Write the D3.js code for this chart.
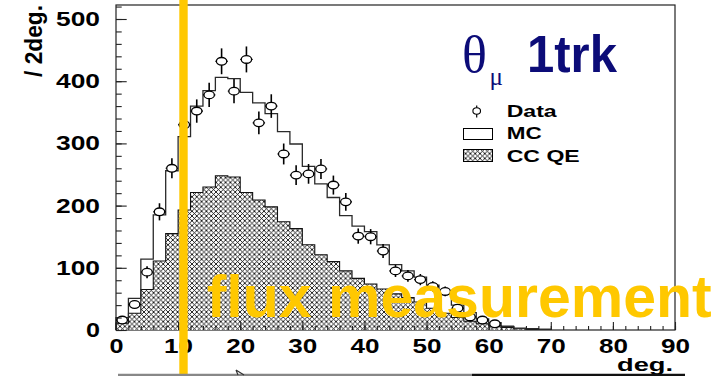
<!DOCTYPE html>
<html>
<head>
<meta charset="utf-8">
<script src="https://cdn.jsdelivr.net/npm/d3@7"></script>
<style>
  html, body { margin: 0; padding: 0; background: #fff; overflow: hidden; }
  svg { display: block; }
</style>
</head>
<body>
<div id="chart"></div>
<script>
// Muon angle distribution, 1-track sample, 2-degree bins
const binLow = [0, 2, 4, 6, 8, 10, 12, 14, 16, 18, 20, 22, 24, 26, 28, 30, 32, 34,
                36, 38, 40, 42, 44, 46, 48, 50, 52, 54, 56, 58, 60, 62, 64, 66, 68];
const binWidth = 2;

// Full Monte Carlo prediction
const mcCounts = [20, 51, 114, 185, 256, 311, 360, 385, 406, 404, 382, 365, 348, 319, 299, 263, 235, 213,
                  184, 167, 158, 137, 105, 95, 85, 72, 58, 40, 28, 18, 12, 6, 3, 2, 1];

// Charged-current quasi-elastic component
const ccqeCounts = [11, 27, 65, 111, 155, 193, 221, 230, 248, 246, 221, 209, 198, 174, 163, 137, 121, 110,
                    95, 83, 74, 66, 58, 52, 45, 35, 27, 20, 14, 10, 7, 4, 2, 1, 1];

// Observed events
const dataCounts = [16, 41, 93, 190, 260, 330, 352, 378, 432, 384, 435, 333, 360, 283, 249, 251, 259, 233,
                    206, 151, 150, 127, 95, 87, 81, 70, 62, 35, 21, 16, 10, 0, 0, 0, 0];

const yMajorTicks = [0, 100, 200, 300, 400, 500];
const xMajorTicks = [0, 10, 20, 30, 40, 50, 60, 70, 80, 90];
const legendLabels = ["Data", "MC", "CC QE"];

const W = 721, H = 376;
const plot = { left: 116, right: 675, top: 5, bottom: 330 };
const yellow = "#FFC800";
const navy = "#0c0c78";

const x = d3.scaleLinear().domain([0, 90]).range([plot.left, plot.right]);
const y = d3.scaleLinear().domain([0, 500]).range([plot.bottom, 19]);

const svg = d3.select("#chart").append("svg")
  .attr("width", W).attr("height", H)
  .attr("viewBox", `0 0 ${W} ${H}`);

// Cross-hatch fill
const P = 4.8;
const defs = svg.append("defs");
const pat = defs.append("pattern")
  .attr("id", "xhatch")
  .attr("patternUnits", "userSpaceOnUse")
  .attr("width", P).attr("height", P);
pat.append("rect").attr("width", P).attr("height", P).attr("fill", "#fff");
pat.append("path")
  .attr("d", `M-1,-1 L${P + 1},${P + 1} M${P + 1},-1 L-1,${P + 1}`)
  .attr("stroke", "#000").attr("stroke-width", 0.85).attr("fill", "none");

// Frame
svg.append("rect")
  .attr("x", plot.left).attr("y", plot.top)
  .attr("width", plot.right - plot.left).attr("height", plot.bottom - plot.top)
  .attr("fill", "#fff").attr("stroke", "#222").attr("stroke-width", 1.2);

// Histogram helpers
function stepPoints(counts) {
  const pts = counts.map((c, i) => [binLow[i], c]);
  pts.push([binLow[binLow.length - 1] + binWidth, counts[counts.length - 1]]);
  return pts;
}
const stepLine = d3.line().x(d => x(d[0])).y(d => y(d[1])).curve(d3.curveStepAfter);
const xEnd = binLow[binLow.length - 1] + binWidth;

// CC QE hatched histogram
const ccqeArea = d3.area()
  .x(d => x(d[0])).y0(y(0)).y1(d => y(d[1]))
  .curve(d3.curveStepAfter);
svg.append("path")
  .datum(stepPoints(ccqeCounts))
  .attr("d", ccqeArea)
  .attr("fill", "url(#xhatch)");
svg.append("path")
  .datum([[0, 0]].concat(stepPoints(ccqeCounts)).concat([[xEnd, 0]]))
  .attr("d", stepLine)
  .attr("fill", "none").attr("stroke", "#111").attr("stroke-width", 1.1);

// MC outline histogram
svg.append("path")
  .datum([[0, 0]].concat(stepPoints(mcCounts)).concat([[xEnd, 0]]))
  .attr("d", stepLine)
  .attr("fill", "none").attr("stroke", "#2a2a2a").attr("stroke-width", 1.3);

// Data points with Poisson errors
const pts = dataCounts.map((c, i) => ({ lo: binLow[i], c })).filter(d => d.c > 0);
const g = svg.append("g");
g.selectAll("line.ev").data(pts).join("line")
  .attr("class", "ev")
  .attr("x1", d => x(d.lo + binWidth / 2)).attr("x2", d => x(d.lo + binWidth / 2))
  .attr("y1", d => y(d.c + Math.sqrt(d.c))).attr("y2", d => y(Math.max(0, d.c - Math.sqrt(d.c))))
  .attr("stroke", "#000").attr("stroke-width", 1.6);
g.selectAll("line.eh").data(pts).join("line")
  .attr("class", "eh")
  .attr("x1", d => x(d.lo)).attr("x2", d => x(d.lo + binWidth))
  .attr("y1", d => y(d.c)).attr("y2", d => y(d.c))
  .attr("stroke", "#000").attr("stroke-width", 1.2);
g.selectAll("ellipse").data(pts).join("ellipse")
  .attr("cx", d => x(d.lo + binWidth / 2)).attr("cy", d => y(d.c))
  .attr("rx", 5.2).attr("ry", 3.8)
  .attr("fill", "#fff").attr("stroke", "#000").attr("stroke-width", 1.3);

// Axes
const font = "'Liberation Sans', Arial, sans-serif";
const yAxis = svg.append("g").attr("transform", `translate(${plot.left},0)`)
  .call(d3.axisLeft(y).tickValues(yMajorTicks).tickSize(-10.7).tickSizeOuter(0).tickPadding(16));
svg.append("g").attr("transform", `translate(${plot.left},0)`)
  .call(d3.axisLeft(y).tickValues(d3.range(0, 521, 20)).tickSize(-5.7).tickSizeOuter(0).tickFormat(""));
const xAxis = svg.append("g").attr("transform", `translate(0,${plot.bottom})`)
  .call(d3.axisBottom(x).tickValues(xMajorTicks).tickSize(-8).tickSizeOuter(0).tickPadding(8.5));
svg.append("g").attr("transform", `translate(0,${plot.bottom})`)
  .call(d3.axisBottom(x).tickValues(d3.range(0, 91, 2)).tickSize(-4).tickSizeOuter(0).tickFormat(""));
svg.selectAll(".domain").remove();
svg.selectAll(".tick line").attr("stroke", "#222").attr("stroke-width", 1.1);

yAxis.selectAll("text")
  .attr("font-family", font).attr("font-weight", "bold").attr("font-size", 20)
  .attr("fill", "#000")
  .attr("textLength", d => String(d).length * 15 - 1)
  .attr("lengthAdjust", "spacingAndGlyphs");
xAxis.selectAll("text")
  .attr("font-family", font).attr("font-weight", "bold").attr("font-size", 20.5)
  .attr("fill", "#000")
  .attr("textLength", d => String(d).length * 15 - 1)
  .attr("lengthAdjust", "spacingAndGlyphs");

// Axis titles
svg.append("text")
  .attr("transform", "translate(41.5,77) rotate(-90)")
  .attr("font-family", font).attr("font-weight", "bold").attr("font-size", 23)
  .attr("textLength", 72).attr("lengthAdjust", "spacingAndGlyphs")
  .text("/ 2deg.");
svg.append("text")
  .attr("x", 617).attr("y", 371)
  .attr("font-family", font).attr("font-weight", "bold").attr("font-size", 19)
  .attr("textLength", 56).attr("lengthAdjust", "spacingAndGlyphs")
  .text("deg.");

// Title
const title = svg.append("text").attr("fill", navy);
title.append("tspan")
  .attr("x", 462).attr("y", 71.5)
  .attr("font-family", "'Liberation Serif', 'Times New Roman', serif").attr("font-size", 52)
  .text("θ");
title.append("tspan")
  .attr("x", 489.5).attr("y", 84.5)
  .attr("font-family", "'Liberation Serif', 'Times New Roman', serif").attr("font-size", 25)
  .text("μ");
svg.append("text")
  .attr("x", 527).attr("y", 71.5)
  .attr("fill", navy)
  .attr("font-family", font).attr("font-weight", "bold").attr("font-size", 52)
  .attr("textLength", 90).attr("lengthAdjust", "spacingAndGlyphs")
  .text("1trk");

// Legend
const leg = svg.append("g");
leg.append("line").attr("x1", 476.7).attr("x2", 476.7).attr("y1", 105.5).attr("y2", 117.5)
  .attr("stroke", "#000").attr("stroke-width", 1.2);
leg.append("ellipse").attr("cx", 476.7).attr("cy", 111).attr("rx", 3.8).attr("ry", 3.2)
  .attr("fill", "#fff").attr("stroke", "#000").attr("stroke-width", 1.1);
leg.append("rect").attr("x", 463.5).attr("y", 128.5).attr("width", 29).attr("height", 11)
  .attr("fill", "#fff").attr("stroke", "#000").attr("stroke-width", 1);
leg.append("rect").attr("x", 463.5).attr("y", 149.5).attr("width", 29).attr("height", 12)
  .attr("fill", "url(#xhatch)").attr("stroke", "#000").attr("stroke-width", 1);
const legendY = [116.7, 139.3, 161.7];
const legendW = [50, 35, 73];
leg.selectAll("text.lg").data(legendLabels).join("text")
  .attr("class", "lg")
  .attr("x", 506.7).attr("y", (d, i) => legendY[i])
  .attr("font-family", font).attr("font-weight", "bold").attr("font-size", 17.3)
  .attr("textLength", (d, i) => legendW[i]).attr("lengthAdjust", "spacingAndGlyphs")
  .text(d => d);

// Flux-measurement annotation
svg.append("rect").attr("x", 179.3).attr("y", 0).attr("width", 8.4).attr("height", H).attr("fill", yellow);
svg.append("text")
  .attr("x", 206.7).attr("y", 316.7)
  .attr("fill", yellow)
  .attr("font-family", font).attr("font-weight", "bold").attr("font-size", 59.5)
  .attr("textLength", 505).attr("lengthAdjust", "spacingAndGlyphs")
  .text("flux measurement");

// Edge of the following panel
svg.append("line").attr("x1", 118).attr("x2", 472).attr("y1", 375).attr("y2", 375)
  .attr("stroke", "#888").attr("stroke-width", 2.5);
svg.append("line").attr("x1", 472).attr("x2", 685).attr("y1", 375).attr("y2", 375)
  .attr("stroke", "#111").attr("stroke-width", 2.5);
svg.append("path")
  .attr("d", "M236,370 L244,375 M236,370 L238,375")
  .attr("fill", "none").attr("stroke", "#333").attr("stroke-width", 1.2);
</script>
</body>
</html>
